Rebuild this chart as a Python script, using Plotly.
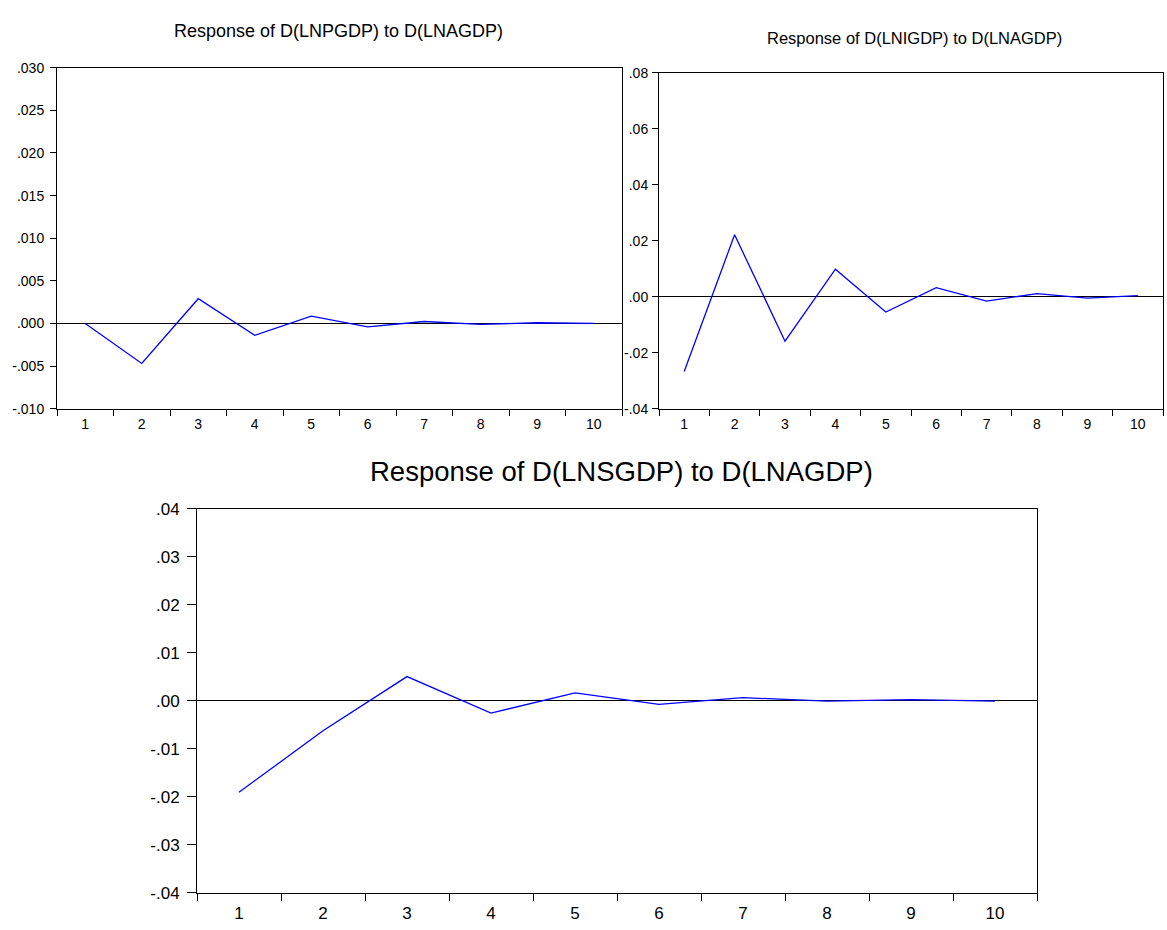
import plotly.graph_objects as go

periods = ["1", "2", "3", "4", "5", "6", "7", "8", "9", "10"]

resp_lnpgdp = [0.0000, -0.0047, 0.0029, -0.0014, 0.00085, -0.0004, 0.00023, -0.0001, 0.00008, 0.0000]
resp_lnigdp = [-0.0267, 0.0221, -0.0159, 0.0098, -0.0055, 0.0032, -0.0016, 0.0011, -0.0005, 0.0004]
resp_lnsgdp = [-0.0191, -0.0063, 0.0050, -0.0026, 0.0016, -0.0008, 0.0006, -0.0001, 0.0002, -0.0001]

y1_vals = [-0.010, -0.005, 0.000, 0.005, 0.010, 0.015, 0.020, 0.025, 0.030]
y1_text = ["-.010", "-.005", ".000", ".005", ".010", ".015", ".020", ".025", ".030"]
y2_vals = [-0.04, -0.02, 0.00, 0.02, 0.04, 0.06, 0.08]
y2_text = ["-.04", "-.02", ".00", ".02", ".04", ".06", ".08"]
y3_vals = [-0.04, -0.03, -0.02, -0.01, 0.00, 0.01, 0.02, 0.03, 0.04]
y3_text = ["-.04", "-.03", "-.02", "-.01", ".00", ".01", ".02", ".03", ".04"]

titles = ["Response of D(LNPGDP) to D(LNAGDP)",
          "Response of D(LNIGDP) to D(LNAGDP)",
          "Response of D(LNSGDP) to D(LNAGDP)"]

W, H = 1167, 930
FONT = "Liberation Sans, Arial, sans-serif"

fig = go.Figure()
series = [resp_lnpgdp, resp_lnigdp, resp_lnsgdp]
for i, s in enumerate(series):
    suffix = "" if i == 0 else str(i + 1)
    fig.add_trace(go.Scatter(x=periods, y=s, mode="lines",
                             line=dict(color="#0000FF", width=1.3),
                             xaxis="x" + suffix, yaxis="y" + suffix,
                             showlegend=False, hoverinfo="skip"))

def px_x(a, b):
    return [a / W, b / W]

def px_y(top, bottom):
    return [1 - bottom / H, 1 - top / H]

def xaxis(domain, anchor, fs, tl, so):
    return dict(domain=domain, anchor=anchor, type="category",
                range=[-0.5, 9.5], tickson="boundaries", ticks="outside",
                ticklen=tl, tickcolor="black", showline=True, linecolor="black",
                linewidth=1, mirror=True, showgrid=False, zeroline=False,
                ticklabelstandoff=so,
                tickfont=dict(family=FONT, size=fs, color="black"))

def yaxis(domain, anchor, rng, vals, text, fs, tl, so):
    return dict(domain=domain, anchor=anchor, range=rng, tickvals=vals,
                ticktext=text, ticks="outside", ticklen=tl, tickcolor="black",
                showline=True, linecolor="black", linewidth=1, mirror=True,
                showgrid=False, zeroline=True, zerolinecolor="black",
                zerolinewidth=1, ticklabelstandoff=so,
                tickfont=dict(family=FONT, size=fs, color="black"))

fig.update_layout(
    width=W, height=H,
    margin=dict(l=0, r=0, t=0, b=0),
    paper_bgcolor="white", plot_bgcolor="white",
    xaxis=xaxis(px_x(57, 622), "y", 14, 6, 3),
    yaxis=yaxis(px_y(60, 408), "x", [-0.010, 0.030], y1_vals, y1_text, 14, 6, 3),
    xaxis2=xaxis(px_x(659, 1163), "y2", 14, 6, 3),
    yaxis2=yaxis(px_y(65, 408), "x2", [-0.04, 0.08], y2_vals, y2_text, 14, 6, 1),
    xaxis3=xaxis(px_x(197, 1037), "y3", 17, 7, 5),
    yaxis3=yaxis(px_y(510, 902), "x3", [-0.04, 0.04], y3_vals, y3_text, 17, 9, 4),
    annotations=[
        dict(text=titles[0], x=338 / W, y=1 - 22 / H, xref="paper", yref="paper",
             xanchor="center", yanchor="middle", showarrow=False,
             font=dict(family=FONT, size=18, color="black")),
        dict(text=titles[1], x=914 / W, y=1 - 30 / H, xref="paper", yref="paper",
             xanchor="center", yanchor="middle", showarrow=False,
             font=dict(family=FONT, size=16.5, color="black")),
        dict(text=titles[2], x=621 / W, y=1 - 472 / H, xref="paper", yref="paper",
             xanchor="center", yanchor="middle", showarrow=False,
             font=dict(family=FONT, size=27.5, color="black")),
    ],
)

fig.write_html("out.html")
